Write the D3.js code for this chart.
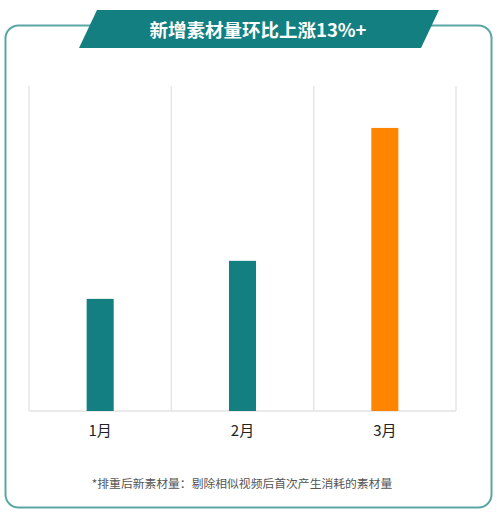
<!DOCTYPE html>
<html>
<head>
<meta charset="utf-8">
<script src="https://cdn.jsdelivr.net/npm/d3@7"></script>
<style>
  html, body { margin: 0; padding: 0; background: #fff; }
  svg { display: block; font-family: "Noto Sans CJK SC", "Open Sans", sans-serif; }
</style>
</head>
<body>
<div id="chart"></div>
<script>
// chart data
var months = ['1月', '2月', '3月'];
var values = [34.5, 46.2, 87.1];
var barColors = ['#147f80', '#147f80', '#ff8500'];
var titleText = '新增素材量环比上涨13%+';
var noteText = '*排重后新素材量：剔除相似视频后首次产生消耗的素材量';

var width = 497, height = 515;
var svg = d3.select('#chart').append('svg')
    .attr('width', width)
    .attr('height', height);

// outer rounded frame
svg.append('rect')
    .attr('x', 5.5).attr('y', 25.5)
    .attr('width', 486).attr('height', 482)
    .attr('rx', 13)
    .attr('fill', '#fff')
    .attr('stroke', '#5aa5a6')
    .attr('stroke-width', 2);

// title banner (parallelogram)
svg.append('path')
    .attr('d', 'M97,10 L439,10 L421,48 L79,48 Z')
    .attr('fill', '#147f80');

svg.append('text')
    .attr('x', 258).attr('y', 29)
    .attr('text-anchor', 'middle')
    .attr('dominant-baseline', 'central')
    .attr('fill', '#fff')
    .attr('font-size', 18.5)
    .attr('font-weight', 'bold')
    .text(titleText);

// plot area
var plotLeft = 29, plotRight = 456, plotTop = 86, plotBottom = 411;

var x = d3.scaleBand()
    .domain(months)
    .range([plotLeft, plotRight])
    .paddingInner(0.81)
    .paddingOuter(0.405);

var y = d3.scaleLinear()
    .domain([0, 100])
    .range([plotBottom, plotTop]);

// vertical gridlines between categories
var step = (plotRight - plotLeft) / months.length;
var gridX = d3.range(months.length + 1).map(function(i) { return plotLeft + i * step; });
svg.selectAll('line.grid')
    .data(gridX)
    .enter()
    .append('line')
    .attr('class', 'grid')
    .attr('x1', function(d) { return d; })
    .attr('x2', function(d) { return d; })
    .attr('y1', plotTop)
    .attr('y2', plotBottom)
    .attr('stroke', '#e6e6e6')
    .attr('stroke-width', 1.5);

// baseline
svg.append('line')
    .attr('x1', plotLeft).attr('x2', plotRight)
    .attr('y1', plotBottom).attr('y2', plotBottom)
    .attr('stroke', '#e3e3e3')
    .attr('stroke-width', 1.5);

// bars
svg.selectAll('rect.bar')
    .data(values)
    .enter()
    .append('rect')
    .attr('class', 'bar')
    .attr('x', function(d, i) { return x(months[i]); })
    .attr('width', x.bandwidth())
    .attr('y', function(d) { return y(d); })
    .attr('height', function(d) { return y(0) - y(d); })
    .attr('fill', function(d, i) { return barColors[i]; });

// category labels
var xAxis = svg.append('g')
    .attr('transform', 'translate(0,' + plotBottom + ')')
    .call(d3.axisBottom(x).tickSize(0).tickPadding(14));
xAxis.select('.domain').remove();
xAxis.selectAll('text')
    .attr('font-size', 15)
    .attr('fill', '#222')
    .style('font-family', '"Noto Sans CJK SC", sans-serif');

// footnote
svg.append('text')
    .attr('x', 242).attr('y', 482)
    .attr('text-anchor', 'middle')
    .attr('dominant-baseline', 'central')
    .attr('fill', '#555')
    .attr('font-size', 11.8)
    .text(noteText);
</script>
</body>
</html>
